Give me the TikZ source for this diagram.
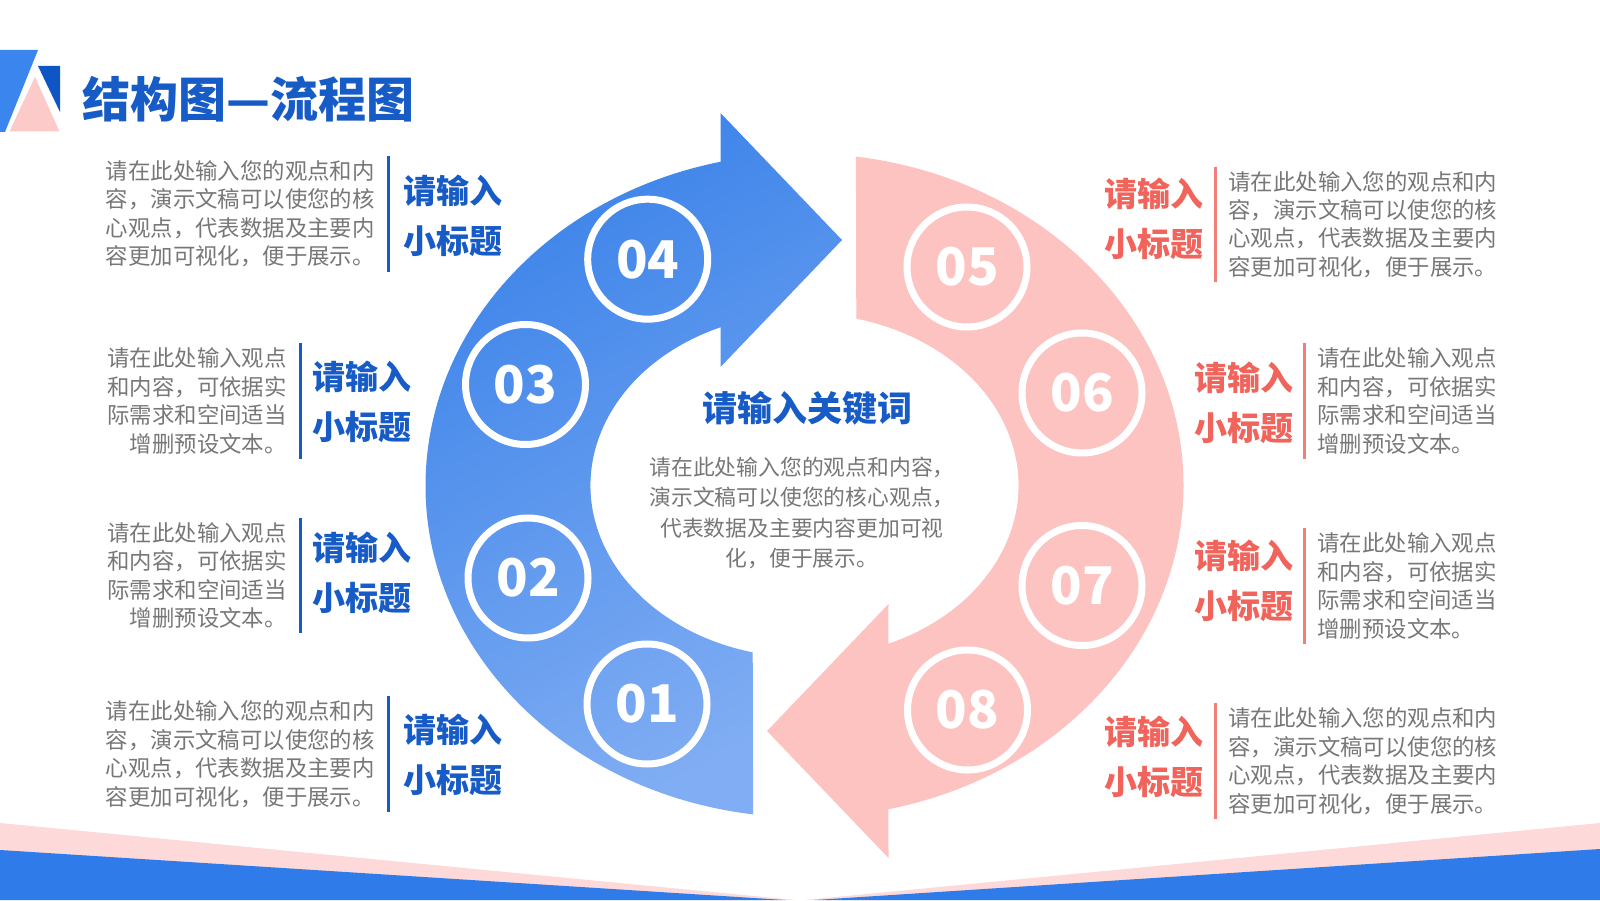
\documentclass[tikz,border=0pt]{standalone}
\usepackage{fontspec}
\setmainfont{Noto Sans CJK SC}
\usetikzlibrary{calc}

\definecolor{titleblue}{HTML}{175CC6}
\definecolor{ringblueA}{HTML}{3A82E9}
\definecolor{ringblueB}{HTML}{80ADF3}
\definecolor{ringpink}{HTML}{FDC3C1}
\definecolor{subred}{HTML}{F0645C}
\definecolor{barred}{HTML}{F27E77}
\definecolor{txtgray}{HTML}{777777}
\definecolor{bandblue}{HTML}{2F7BE9}
\definecolor{bandpink}{HTML}{FDDAD9}
\definecolor{logoblue}{HTML}{3A86EE}
\definecolor{logodark}{HTML}{0F55C4}
\definecolor{logopink}{HTML}{FDCACA}

\newcommand{\longnote}{请在此处输入您的观点和内\\容，演示文稿可以使您的核\\心观点，代表数据及主要内\\容更加可视化，便于展示。}
\newcommand{\shortnote}{请在此处输入观点\\和内容，可依据实\\际需求和空间适当\\增删预设文本。}

\begin{document}
\begin{tikzpicture}[x=0.5pt, y=0.5pt,
    body/.style={font=\fontsize{11.2}{14.25}\selectfont, text=txtgray, inner sep=0pt},
    lbody/.style={body, align=right, anchor=east},
    rbody/.style={body, align=left, anchor=west},
    subtitle/.style={font=\fontsize{16.5}{25}\selectfont\bfseries, inner sep=0pt, align=center},
    lsub/.style={subtitle, text=titleblue, anchor=west},
    rsub/.style={subtitle, text=subred, anchor=east},
    lbar/.style={draw=titleblue, line width=1.5pt},
    rbar/.style={draw=barred, line width=1.5pt},
    numring/.style={circle, draw=white, line width=3.5pt, minimum size=60pt, inner sep=0pt,
        text=white, font=\fontsize{26}{26}\selectfont\bfseries}]

        \fill[white] (0,0) rectangle (1600,900);
        \useasboundingbox (0,0) rectangle (1600,900);

        % bottom band
        \fill[bandpink] (0,77) -- (795,0) -- (0,0) -- cycle;
        \fill[bandpink] (1600,77) -- (805,0) -- (1600,0) -- cycle;
        \fill[bandblue] (0,50) -- (785,0) -- (0,0) -- cycle;
        \fill[bandblue] (1600,51) -- (815,0) -- (1600,0) -- cycle;

        % logo and title
        \fill[logoblue] (0,850) -- (38,850) -- (5,768) -- (0,768) -- cycle;
        \fill[logodark] (38,834) -- (60,834) -- (60,788) -- cycle;
        \filldraw[fill=logopink, draw=white, line width=1.5pt] (35,827) -- (62,767) -- (7,767) -- cycle;
        \node[font=\fontsize{24}{24}\selectfont\bfseries, text=titleblue, anchor=west, inner sep=0pt] (title) at (82,801) {结构图—流程图};

        % blue arrow
        \shade[top color=ringblueA, bottom color=ringblueB, shading angle=30]
            (753.1,85.6) arc[start angle=262.2, end angle=102.8, x radius=379, y radius=332]
            -- (720.5,787) -- (842,660) -- (720.5,533) -- (720.7,572.8)
            arc[start angle=113.05, end angle=256, x radius=214, y radius=172] -- cycle;

        % pink arrow
        \fill[ringpink]
            (855.9,743.4) arc[start angle=82.2, end angle=-77.2, x radius=379, y radius=332]
            -- (888.5,42) -- (767,169) -- (888.5,296) -- (888.3,256.2)
            arc[start angle=-66.95, end angle=76, x radius=214, y radius=172] -- cycle;

        % number rings
        \node[numring] (n1) at (647,196) {01};
        \node[numring] (n2) at (528,322) {02};
        \node[numring] (n3) at (525.5,515.5) {03};
        \node[numring] (n4) at (647.7,640.8) {04};
        \node[numring] (n5) at (967,633) {05};
        \node[numring] (n6) at (1082,507) {06};
        \node[numring] (n7) at (1082,314.5) {07};
        \node[numring] (n8) at (967.5,190) {08};

        % centre
        \node[font=\fontsize{17.5}{17.5}\selectfont\bfseries, text=titleblue, inner sep=0pt] (key) at (807.5,492) {请输入关键词};
        \node[font=\fontsize{10.9}{15.3}\selectfont, text=txtgray, align=center, inner sep=0pt] (keytxt) at (802,387)
            {请在此处输入您的观点和内容，\\演示文稿可以使您的核心观点，\\代表数据及主要内容更加可视\\化，便于展示。};

        % left side
        \node[lbody] (t4) at (375,686) {\longnote};
        \node[lsub] (s4) at (403,684) {请输入\\小标题};
        \draw[lbar] ($(t4.north east)+(13,4)$) -- ($(t4.south east)+(13,-4)$);

        \node[lbody] (t3) at (287,499) {\shortnote};
        \node[lsub] (s3) at (312,498) {请输入\\小标题};
        \draw[lbar] ($(t3.north east)+(13,4)$) -- ($(t3.south east)+(13,-4)$);

        \node[lbody] (t2) at (287,324.5) {\shortnote};
        \node[lsub] (s2) at (312,327) {请输入\\小标题};
        \draw[lbar] ($(t2.north east)+(13,4)$) -- ($(t2.south east)+(13,-4)$);

        \node[lbody] (t1) at (375,146) {\longnote};
        \node[lsub] (s1) at (403,145) {请输入\\小标题};
        \draw[lbar] ($(t1.north east)+(13,4)$) -- ($(t1.south east)+(13,-4)$);

        % right side
        \node[rbody] (t5) at (1228,675.5) {\longnote};
        \node[rsub] (s5) at (1204,681.5) {请输入\\小标题};
        \draw[rbar] ($(t5.north west)+(-13,4)$) -- ($(t5.south west)+(-13,-4)$);

        \node[rbody] (t6) at (1317,499) {\shortnote};
        \node[rsub] (s6) at (1294,497.5) {请输入\\小标题};
        \draw[rbar] ($(t6.north west)+(-13,4)$) -- ($(t6.south west)+(-13,-4)$);

        \node[rbody] (t7) at (1317,314) {\shortnote};
        \node[rsub] (s7) at (1294,319.5) {请输入\\小标题};
        \draw[rbar] ($(t7.north west)+(-13,4)$) -- ($(t7.south west)+(-13,-4)$);

        \node[rbody] (t8) at (1228,139) {\longnote};
        \node[rsub] (s8) at (1204,143) {请输入\\小标题};
        \draw[rbar] ($(t8.north west)+(-13,4)$) -- ($(t8.south west)+(-13,-4)$);

\end{tikzpicture}
\end{document}
